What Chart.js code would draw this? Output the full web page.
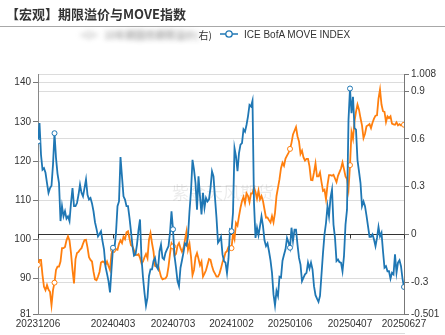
<!DOCTYPE html>
<html lang="zh">
<head>
<meta charset="UTF-8">
<title>期限溢价与MOVE指数</title>
<script src="https://cdn.jsdelivr.net/npm/chart.js@4.4.0/dist/chart.umd.min.js"></script>
<style>
html, body { margin: 0; padding: 0; background: #fff; }
#wrap { position: relative; width: 445px; height: 335px; overflow: hidden; }
#chart { position: absolute; left: 0; top: 0; }
#title { position: absolute; left: 6px; top: 6px; font: bold 13px/16px "Noto Sans CJK SC", sans-serif; color: #333; white-space: nowrap; }
#rule { position: absolute; left: 0; top: 26px; width: 445px; border-top: 1px solid #a8a8a8; }
.leg { position: absolute; top: 29px; font: 10px/12px "Liberation Sans", Arial, "Noto Sans CJK SC", sans-serif; color: #333; white-space: nowrap; }
.leg svg { vertical-align: -1px; margin-right: 6px; }
#leg1 { right: 233px; }
#leg1 .cn { font-family: "Noto Sans CJK SC", sans-serif; }
#leg1 .blur { filter: blur(2.5px) grayscale(1); opacity: 0.6; }
#leg2 { left: 220px; }
#zoombar { position: absolute; left: 40px; top: 333px; width: 365px; border-top: 1px solid #dcdcdc; }
</style>
</head>
<body>
<div id="wrap">
    <canvas id="chart" width="445" height="335"></canvas>
    <div id="title">【宏观】期限溢价与MOVE指数</div>
    <div id="rule"></div>
    <div class="leg" id="leg1"><span class="blur"><svg width="18" height="10"><line x1="0" y1="5" x2="18" y2="5" stroke="#ff7f0e" stroke-width="1.5"/><circle cx="9" cy="5" r="3.2" fill="#fff" stroke="#ff7f0e" stroke-width="1.3"/></svg><span class="cn">10年期国债期限溢价(</span></span><span class="cn">右)</span></div>
    <div class="leg" id="leg2"><svg width="18" height="10"><line x1="0" y1="5" x2="18" y2="5" stroke="#1f77b4" stroke-width="1.5"/><circle cx="9" cy="5" r="3.2" fill="#fff" stroke="#1f77b4" stroke-width="1.3"/></svg>ICE BofA MOVE INDEX</div>
    <div id="zoombar"></div>
</div>
<script>
// x tick labels and the sample index they sit on
const xLabels = ['20231206', '20240403', '20240703', '20241002', '20250106', '20250407', '20250627'];
const xTickIdx = [0, 50, 90, 129, 168, 208, 244];
// samples that carry a hollow marker
const markerIdx = [0, 11, 50, 90, 129, 168, 208, 244];

const leftTicks = [81, 90, 100, 110, 120, 130, 140];
const rightTicks = [-0.501, -0.3, 0, 0.3, 0.6, 0.9, 1.008];

// ICE BofA MOVE INDEX (left axis)
const moveIndex = [
    125.0, 129.7, 121.6, 117.8, 118.2, 117, 114.4, 111.9, 113.1, 113.7,
    119.1, 127.1, 120.8, 116.8, 114.4, 104.7, 108.5, 105.9, 107.2, 105.3,
    105.9, 104.7, 109.3, 113.1, 108.5, 108.5, 109.3, 111.4, 114, 111.9,
    111.0, 113.1, 115.3, 111.4, 110.2, 110.6, 109.2, 107.2, 104.4, 102.7,
    100.8, 101.4, 102.1, 99.6, 97.5, 93.1, 91.3, 89.4, 86.5, 92.4,
    97.9, 97.9, 101.7, 108.5, 109.7, 121, 116, 111.0, 110.2, 108.5,
    108.5, 105.5, 102, 98.3, 95.9, 96.2, 98.7, 102.4, 105.1, 95.3,
    90.3, 86.4, 83.1, 85.2, 90.7, 92.4, 92.4, 94.5, 95.3, 93.1,
    92.4, 97.0, 98.7, 95.3, 94.9, 96.6, 97.5, 98.3, 101.7, 107.2,
    102.6, 95.8, 92.8, 89.4, 88.1, 92.8, 94.7, 96.7, 99, 98.5,
    100.8, 107.2, 112.3, 120.3, 117.8, 114.4, 107.6, 116.1, 111.0, 106.4,
    111.9, 108.1, 110.6, 109.7, 110.2, 113.1, 117.4, 116.1, 110.6, 105.5,
    99.2, 99.8, 100.7, 96.2, 94.5, 94.1, 91.4, 95.1, 102.5, 102.1,
    106.8, 123.3, 121.2, 117.4, 122, 124.2, 124.6, 128.1, 127.5, 129.2,
    131.4, 134.3, 133.9, 135.4, 109.3, 100.4, 103, 101.1, 103.4, 105.9,
    103.4, 99.8, 98.3, 99.0, 97, 94.7, 91.5, 86.0, 83.2, 86.9,
    85.6, 90.5, 90.3, 94.6, 96.1, 97.5, 100.4, 99.3, 97.9, 103,
    99.6, 102.5, 102.5, 98.7, 95.3, 93.6, 89.4, 90.3, 91.1, 91.5,
    94.1, 92.6, 94.1, 92.4, 88.1, 85.8, 84.9, 84.1, 85.6, 91.1,
    96.6, 101.3, 104.2, 108.5, 105.9, 110.6, 112.7, 103.8, 100.4, 94.5,
    94.9, 94.2, 94.1, 91.9, 95.8, 103.8, 107.6, 130.5, 138.5, 132.2,
    136.4, 128.4, 128, 120.2, 117.4, 114.4, 108.5, 109.7, 108.5, 106.1,
    103.4, 100.7, 100.7, 101.3, 100, 98.3, 100.4, 103.2, 100.8, 101.7,
    97.0, 92.8, 93.2, 91.9, 91.9, 90, 91.5, 91.1, 96.2, 91.5,
    94.1, 94.7, 93.2, 90, 87.9
];

// 10Y term premium (right axis)
const termPremium = [
    -0.192, -0.161, -0.161, -0.256, -0.33, -0.351, -0.319, -0.347, -0.362, -0.446,
    -0.351, -0.304, -0.224, -0.203, -0.203, -0.171, -0.087, -0.087, -0.08, -0.038,
    -0.013, -0.038, -0.118, -0.224, -0.309, -0.156, -0.118, -0.11, -0.097, -0.087,
    -0.059, -0.036, -0.034, -0.082, -0.144, -0.161, -0.171, -0.235, -0.283, -0.288,
    -0.266, -0.237, -0.178, -0.171, -0.173, -0.192, -0.171, -0.199, -0.224, -0.123,
    -0.097, -0.108, -0.093, -0.097, -0.059, -0.038, -0.055, -0.015, -0.03, 0.013,
    0.019, -0.027, -0.068, -0.076, -0.101, -0.129, -0.131, -0.125, -0.148, -0.182,
    -0.171, -0.144, -0.123, -0.15, -0.034, 0.008, -0.055, -0.108, -0.199, -0.203,
    -0.192, -0.23, -0.266, -0.283, -0.279, -0.277, -0.262, -0.203, -0.123, -0.057,
    -0.076, -0.133, -0.123, -0.072, -0.055, -0.087, -0.11, -0.085, -0.034, 0.017,
    -0.097, -0.059, -0.14, -0.256, -0.224, -0.144, -0.118, -0.154, -0.195, -0.171,
    -0.266, -0.247, -0.226, -0.192, -0.156, -0.161, -0.199, -0.23, -0.247, -0.266,
    -0.266, -0.247, -0.214, -0.175, -0.15, -0.114, -0.106, -0.08, -0.076, -0.087,
    0.004, -0.03, 0.072, 0.055, 0.114, 0.167, 0.209, 0.235, 0.195, 0.258,
    0.241, 0.203, 0.258, 0.258, 0.294, 0.266, 0.224, 0.275, 0.22, 0.241,
    0.209, 0.156, 0.104, 0.106, 0.089, 0.074, 0.114, 0.076, 0.135, 0.241,
    0.294, 0.347, 0.416, 0.45, 0.431, 0.476, 0.495, 0.512, 0.537, 0.575,
    0.628, 0.651, 0.674, 0.617, 0.584, 0.505, 0.526, 0.484, 0.463, 0.474,
    0.474, 0.427, 0.342, 0.34, 0.389, 0.446, 0.364, 0.364, 0.389, 0.328,
    0.273, 0.281, 0.22, 0.311, 0.372, 0.372, 0.368, 0.374, 0.351, 0.328,
    0.368, 0.391, 0.414, 0.452, 0.41, 0.364, 0.347, 0.283, 0.435, 0.643,
    0.6, 0.71, 0.77, 0.816, 0.784, 0.731, 0.685, 0.605, 0.632, 0.679,
    0.685, 0.693, 0.668, 0.702, 0.727, 0.746, 0.748, 0.854, 0.91, 0.816,
    0.774, 0.77, 0.706, 0.742, 0.731, 0.742, 0.696, 0.691, 0.689, 0.704,
    0.685, 0.693, 0.685, 0.689, 0.689
];

const tickFont = { family: '"Liberation Sans", Arial, sans-serif', size: 10 };
const markerRadius = (ctx) => markerIdx.includes(ctx.dataIndex) ? 2.5 : 0;

// watermark + dark zero line of the right axis, with little ticks
const zeroLine = {
    id: 'zeroLine',
    beforeDatasetsDraw(chart) {
        const { ctx, chartArea: a, scales } = chart;
        ctx.save();
        ctx.fillStyle = 'rgba(0,0,0,0.08)';
        ctx.font = '17px "Noto Sans CJK SC", sans-serif';
        ctx.textAlign = 'center';
        ctx.textBaseline = 'middle';
        ctx.fillText('紫金天风期货', (a.left + a.right) / 2 + 2, (a.top + a.bottom) / 2 - 1);

        const y0 = Math.round(scales.y1.getPixelForValue(0)) + 0.5;
        ctx.strokeStyle = '#333';
        ctx.lineWidth = 1;
        ctx.beginPath();
        ctx.moveTo(a.left, y0);
        ctx.lineTo(a.right, y0);
        scales.x.ticks.forEach(t => {
            const px = Math.round(scales.x.getPixelForValue(t.value)) + 0.5;
            ctx.moveTo(px, y0);
            ctx.lineTo(px, y0 + 4);
        });
        ctx.stroke();
        ctx.restore();
    }
};

new Chart(document.getElementById('chart'), {
    type: 'line',
    data: {
        datasets: [{
            label: 'ICE BofA MOVE INDEX',
            data: moveIndex.map((v, i) => ({ x: i, y: v })),
            yAxisID: 'y',
            borderColor: '#1f77b4',
            borderWidth: 1.8,
            pointRadius: markerRadius,
            pointBackgroundColor: '#fff',
            pointBorderColor: '#1f77b4',
            pointBorderWidth: 1,
            tension: 0
        }, {
            label: '10年期国债期限溢价(右)',
            data: termPremium.map((v, i) => ({ x: i, y: v })),
            yAxisID: 'y1',
            borderColor: '#ff7f0e',
            borderWidth: 1.8,
            pointRadius: markerRadius,
            pointBackgroundColor: '#fff',
            pointBorderColor: '#ff7f0e',
            pointBorderWidth: 1,
            tension: 0
        }]
    },
    options: {
        responsive: false,
        animation: false,
        layout: { padding: { top: 74 } },
        plugins: { legend: { display: false }, tooltip: { enabled: false } },
        scales: {
            x: {
                type: 'linear',
                min: 0,
                max: moveIndex.length - 1,
                afterBuildTicks: s => { s.ticks = xTickIdx.map(v => ({ value: v })); },
                afterFit: s => { s.height = 21; },
                ticks: {
                    autoSkip: false, maxRotation: 0, padding: 4,
                    color: '#333', font: tickFont,
                    callback: v => xLabels[xTickIdx.indexOf(v)]
                },
                grid: { drawOnChartArea: false, drawTicks: false },
                border: { color: '#888' }
            },
            y: {
                position: 'left',
                min: 81,
                max: 142.2,
                afterBuildTicks: s => { s.ticks = leftTicks.map(v => ({ value: v })); },
                afterFit: s => { s.width = 38; },
                ticks: { padding: 2, color: '#333', font: tickFont, callback: v => String(v) },
                grid: { color: '#dcdcdc', tickColor: '#777', tickLength: 5 },
                border: { color: '#888' }
            },
            y1: {
                position: 'right',
                min: -0.501,
                max: 1.008,
                afterBuildTicks: s => { s.ticks = rightTicks.map(v => ({ value: v })); },
                afterFit: s => { s.width = 41; },
                ticks: { padding: 2, color: '#333', font: tickFont, callback: v => String(v) },
                grid: { color: '#dcdcdc', tickColor: '#777', tickLength: 5 },
                border: { color: '#777' }
            }
        }
    },
    plugins: [zeroLine]
});
</script>
</body>
</html>
